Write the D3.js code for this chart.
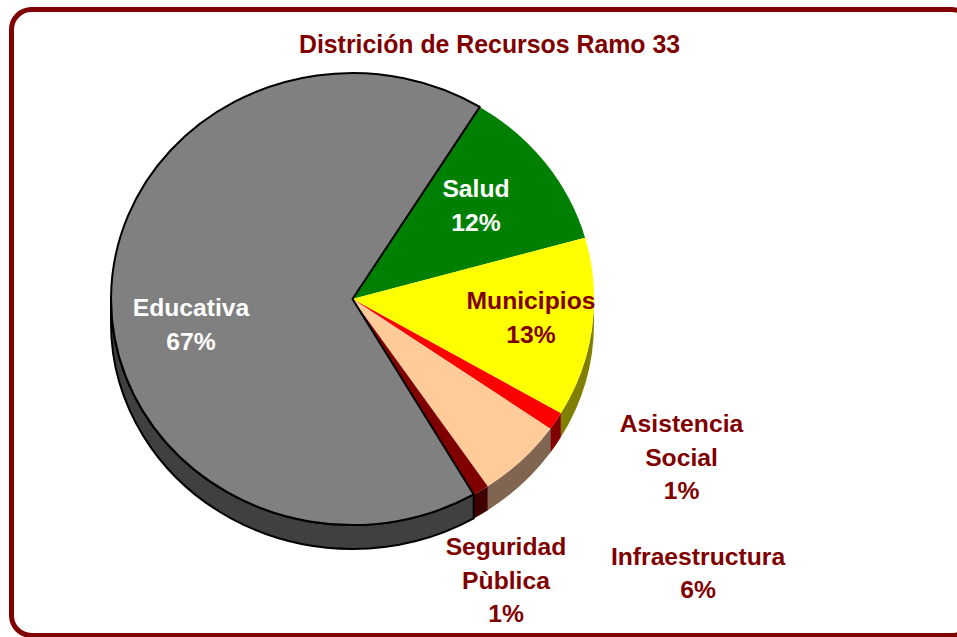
<!DOCTYPE html>
<html><head><meta charset="utf-8">
<script src="https://cdn.jsdelivr.net/npm/d3@7"></script>
<style>html,body{margin:0;padding:0;background:#fff;overflow:hidden}svg{display:block}text{font-family:"Liberation Sans",Arial,sans-serif;font-weight:bold}</style>
</head><body><script>
const title = "Districión de Recursos Ramo 33";
const categories = ["Salud","Municipios","Asistencia Social","Infraestructura","Seguridad Pùblica","Educativa"];
const values = [11.8,12.8,1.3,5.8,1.1,67.2];
const topColors = ["#008000","#ffff00","#ff0000","#ffcc99","#800000","#808080"];
const wallColors = ["#004000","#808000","#800000","#806650","#400000","#404040"];
const labelColors = ["#fff","#800000","#800000","#800000","#800000","#fff"];
const labelLines = [["Salud"],["Municipios"],["Asistencia","Social"],["Infraestructura"],["Seguridad","Pùblica"],["Educativa"]];
const labelPos = [[476,189],[531,301],[681.5,424],[698,556.5],[506,547],[191,308]];

const W=957,H=637,cx=352.5,cy=299,rx=241.5,ry=226,depth=24;
const svg=d3.select("body").append("svg").attr("width",W).attr("height",H);
svg.append("rect").attr("x",11.5).attr("y",9.5).attr("width",960).attr("height",626).attr("rx",20).attr("ry",20)
  .attr("fill","#fff").attr("stroke","#800000").attr("stroke-width",5);

const start=31.8*Math.PI/180;
const arcs=d3.pie().sort(null).startAngle(start).endAngle(start+2*Math.PI)(values);
const px=a=>cx+rx*Math.sin(a), py=a=>cy-ry*Math.cos(a);

// side walls: only the front half of the rim (90deg..270deg from the top)
const g=svg.append("g");
const lo=Math.PI/2, hi=3*Math.PI/2;
arcs.forEach((d,i)=>{
  const a0=Math.max(d.startAngle,lo), a1=Math.min(d.endAngle,hi);
  if(a1<=a0) return;
  const large=(a1-a0)>Math.PI?1:0;
  const p=`M${px(a0)},${py(a0)}A${rx},${ry} 0 ${large} 1 ${px(a1)},${py(a1)}`+
          `L${px(a1)},${py(a1)+depth}A${rx},${ry} 0 ${large} 0 ${px(a0)},${py(a0)+depth}Z`;
  g.append("path").attr("d",p).attr("fill",wallColors[i])
    .attr("stroke",i===5?"#000":"none").attr("stroke-width",2).attr("stroke-linejoin","round");
});

// top faces
const unit=d3.arc().innerRadius(0).outerRadius(1);
const tg=svg.append("g").attr("transform",`translate(${cx},${cy}) scale(${rx},${ry})`);
arcs.forEach((d,i)=>{
  tg.append("path").attr("d",unit(d)).attr("fill",topColors[i])
    .attr("stroke",i===5?"#000":"none").attr("stroke-width",2)
    .attr("vector-effect","non-scaling-stroke").attr("stroke-linejoin","round");
});

// labels
const fs=24.7, lh=33.5;
svg.append("text").attr("x",489.5).attr("y",53).attr("text-anchor","middle").attr("font-size",24.85).attr("fill","#800000").text(title);
categories.forEach((c,i)=>{
  const lines=labelLines[i].concat([d3.format(".0f")(values[i])+"%"]);
  const t=svg.append("text").attr("text-anchor","middle").attr("font-size",fs).attr("fill",labelColors[i]);
  lines.forEach((s,k)=>t.append("tspan").attr("x",labelPos[i][0]).attr("y",labelPos[i][1]+8+k*lh).text(s));
});
</script></body></html>
